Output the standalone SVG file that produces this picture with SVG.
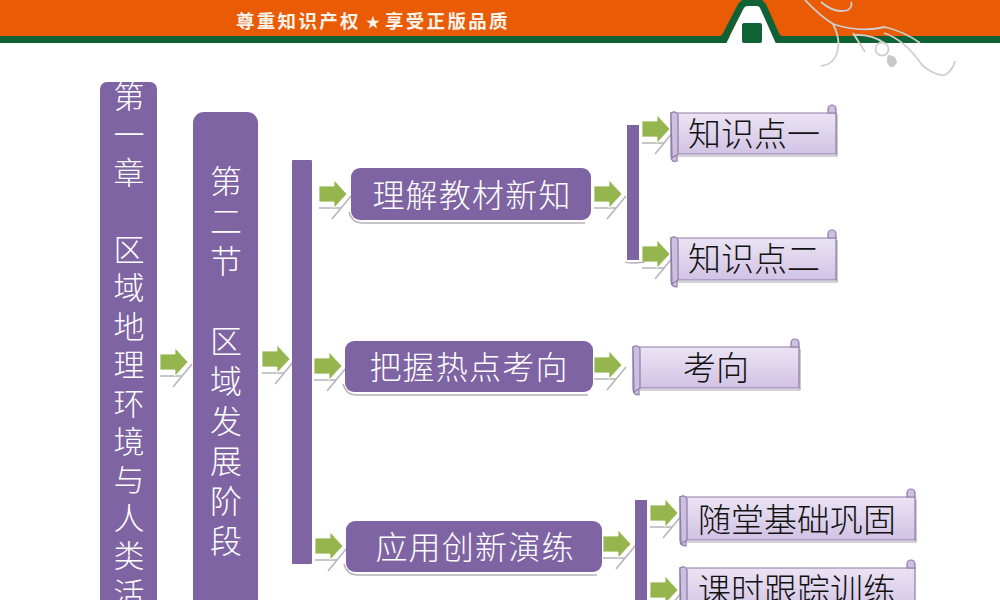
<svg xmlns="http://www.w3.org/2000/svg" xmlns:xlink="http://www.w3.org/1999/xlink" width="1000" height="600" viewBox="0 0 1000 600">
<style>
text{font-family:"Noto Sans CJK SC","Liberation Sans",sans-serif}
.w{fill:#fff;text-anchor:middle;font-size:31px;font-weight:300}
.t{fill:#fff;text-anchor:middle;font-size:32px;font-weight:300}
.m{fill:#fff;text-anchor:middle;font-size:32px;font-weight:300;letter-spacing:1.2px}
.d{fill:#111;text-anchor:middle;font-size:33px;font-weight:300}
.b{fill:#7e64a2}
.sh{fill:none;stroke:#b5b3b8;stroke-width:1.5}
.a{fill:#95b64e}
.curl{fill:#cdbfe0;stroke:#8d7ba8;stroke-width:1.2}
.sc{fill:url(#lav);stroke:#8d7ba8;stroke-width:1.2}
.ss{fill:none;stroke:#a9a5ad;stroke-width:1.2}
</style>
<defs>
<linearGradient id="lav" x1="0" y1="0" x2="0" y2="1"><stop offset="0" stop-color="#ebe4f4"/><stop offset="1" stop-color="#cdbde2"/></linearGradient>
<g id="arr">
<path class="sh" d="M0 14H22"/><path class="sh" d="M32 2L13 25"/>
<path class="a" d="M0 -8H15V-14L28 0L15 14V8H0Z" stroke="#fff" stroke-width=".8"/>
</g>
</defs>

<g id="header">
<rect width="1000" height="37" fill="#e95b05"/>
<rect y="36" width="1000" height="7" fill="#0f6236"/>
<path d="M726 44L743 9Q746 4 750 4H755Q759 4 762 9L776 44Z" fill="#fff"/>
<path d="M700 39.500H720Q724 39.500 726 35L741 6Q743 2.500 748 2.500H757Q761 2.500 763 6L776 35Q778 39.500 782 39.500H800" fill="none" stroke="#0f6236" stroke-width="7"/>
<rect x="742" y="23" width="20" height="20" rx="2" fill="#0f6236"/>
<g fill="#f7f2ea" font-size="18.500" font-weight="700" text-anchor="start" letter-spacing="2.300">
<text x="236" y="28">尊重知识产权</text>
<text x="366" y="27" font-size="14">★</text>
<text x="385" y="28">享受正版品质</text>
</g>
</g>
<g id="ornament" fill="none" stroke="#cfcfcf" stroke-width="1.800">
<path d="M805 0Q820 16 833 24Q840 38 838 48Q836 64 821 66"/>
<path d="M821 2Q835 14 848 10Q853 6 851 2"/>
<path d="M833 24Q860 33 885 27Q905 32 920 43"/>
<path d="M853 33L865 52"/>
<path d="M853 35Q872 34 884 43"/>
<path d="M884 33Q905 40 922 65Q935 76 945 75Q953 70 955 61"/>
<circle cx="882" cy="49" r="6.500"/>
<path d="M888 55Q896 55 897 62Q895 68 890 67Q885 62 888 55Z" fill="#c8c8c8" stroke="none"/>
</g>

<g id="connectors">
<use xlink:href="#arr" x="160" y="362"/>
<use xlink:href="#arr" x="262" y="359"/>
<use xlink:href="#arr" x="319" y="194"/>
<use xlink:href="#arr" x="314" y="366"/>
<use xlink:href="#arr" x="315" y="546"/>
<use xlink:href="#arr" x="594" y="194"/>
<use xlink:href="#arr" x="642" y="129"/>
<use xlink:href="#arr" x="642" y="254"/>
<use xlink:href="#arr" x="594" y="365"/>
<use xlink:href="#arr" x="603" y="544"/>
<use xlink:href="#arr" x="650" y="513"/>
<use xlink:href="#arr" x="650" y="590"/>
</g>

<g id="chapter">
<rect x="100" y="82" width="57" height="540" rx="7" class="b"/>
<g class="w">
<text x="129" y="108">第</text><text x="129" y="146">一</text><text x="129" y="184">章</text>
<text x="129" y="261">区</text><text x="129" y="299">域</text><text x="129" y="338">地</text><text x="129" y="376">理</text><text x="129" y="415">环</text><text x="129" y="453">境</text><text x="129" y="491">与</text><text x="129" y="529">人</text><text x="129" y="567">类</text><text x="129" y="605">活</text>
</g>
</g>
<g id="section">
<rect x="193" y="112" width="65" height="510" rx="11" class="b"/>
<g class="t">
<text x="226" y="193">第</text><text x="226" y="233">二</text><text x="226" y="273">节</text>
<text x="226" y="353">区</text><text x="226" y="393">域</text><text x="226" y="433">发</text><text x="226" y="473">展</text><text x="226" y="513">阶</text><text x="226" y="553">段</text>
</g>
</g>
<g id="bracket1"><rect x="292" y="160" width="20" height="404" rx="1" class="b"/></g>
<g id="bracket2"><path class="sh" d="M625 262Q628 264 645 262"/><rect x="627" y="125" width="12" height="135" class="b"/></g>
<g id="bracket3"><rect x="635" y="500" width="12" height="110" class="b"/></g>

<g id="n-lijie">
<path class="sh" d="M349 212Q352 223 362 223H585"/>
<rect x="351" y="168" width="240" height="52" rx="9" class="b"/>
<text x="472" y="207" class="m">理解教材新知</text>
</g>
<g id="n-bawo">
<path class="sh" d="M343 384Q346 395 356 395H588"/>
<rect x="345" y="341" width="248" height="51" rx="9" class="b"/>
<text x="469" y="379" class="m">把握热点考向</text>
</g>
<g id="n-yingyong">
<path class="sh" d="M344 564Q347 575 357 575H597"/>
<rect x="346" y="521" width="256" height="51" rx="9" class="b"/>
<text x="475" y="559" class="m">应用创新演练</text>
</g>

<g id="s-1">
<path class="ss" d="M678 156H837V114"/>
<path class="sc" d="M671 113H836V154H677V161Q671 163 671 156Z"/>
<path class="curl" d="M671 113Q676 110 678 115V154L672 158Z"/><path class="curl" d="M828 113V109A4 4 0 1 1 836 109V113Z"/>
<text x="754" y="146" class="d">知识点一</text>
</g>
<g id="s-2">
<path class="ss" d="M678 282H837V240"/>
<path class="sc" d="M671 238H836V280H677V287Q671 287 671 281Z"/>
<path class="curl" d="M671 238Q676 235 678 240V280L672 284Z"/><path class="curl" d="M828 238V234A4 4 0 1 1 836 234V238Z"/>
<text x="754" y="271" class="d">知识点二</text>
</g>
<g id="s-3">
<path class="ss" d="M640 390H800V349"/>
<path class="sc" d="M633 347H799V388H639V395Q633 395 633 389Z"/>
<path class="curl" d="M633 347Q638 344 640 349V388L634 392Z"/><path class="curl" d="M791 347V343A4 4 0 1 1 799 343V347Z"/>
<text x="716" y="380" class="d">考向</text>
</g>
<g id="s-4">
<path class="ss" d="M687 542H916V499"/>
<path class="sc" d="M680 497H915V540H686V546Q680 546 680 540Z"/>
<path class="curl" d="M680 497Q685 494 687 499V540L681 544Z"/><path class="curl" d="M907 497V493A4 4 0 1 1 915 493V497Z"/>
<text x="797" y="532" class="d">随堂基础巩固</text>
</g>
<g id="s-5">
<path class="sc" d="M680 568H915V612H686V618Q680 618 680 612Z"/>
<path class="curl" d="M680 568Q685 565 687 570V612L681 614Z"/><path class="curl" d="M907 568V564A4 4 0 1 1 915 564V568Z"/>
<text x="797" y="602" class="d">课时跟踪训练</text>
</g>
</svg>
